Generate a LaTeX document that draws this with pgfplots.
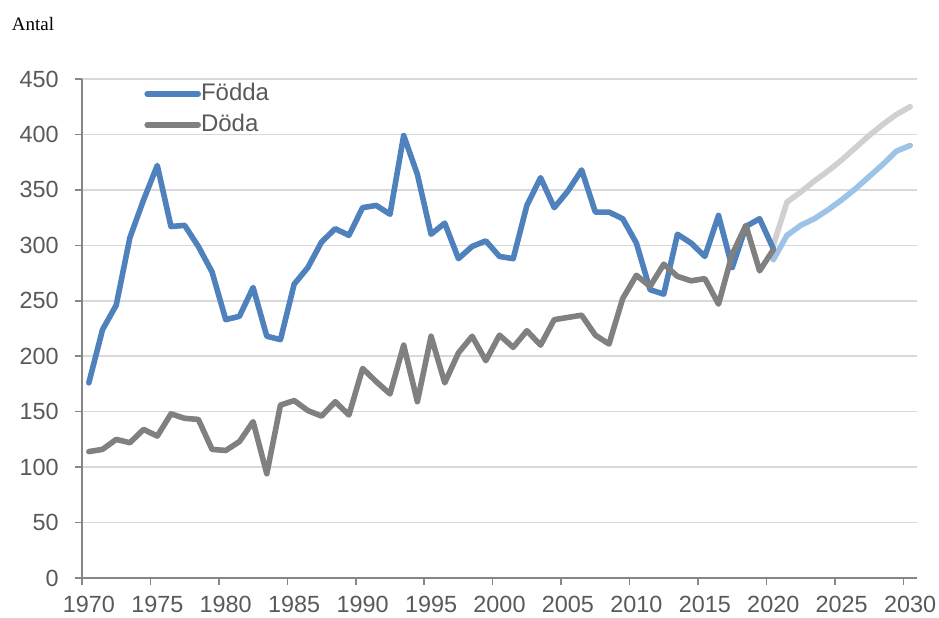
\documentclass[border=0pt]{standalone}
\usepackage{fontspec}
\setmainfont{Liberation Sans}
\newfontfamily\serifont{Liberation Serif}
\usepackage{pgfplots}
\pgfplotsset{compat=1.18}
\definecolor{fblue}{RGB}{79,129,189}
\definecolor{dgray}{RGB}{128,128,128}
\definecolor{lblue}{RGB}{157,195,230}
\definecolor{lgray}{RGB}{208,208,208}
\definecolor{gridgray}{RGB}{217,217,217}
\definecolor{axisgray}{RGB}{134,134,134}
\definecolor{textgray}{RGB}{89,89,89}

\pgfplotstableread{
year fodda doda
1970 176 114
1971 224 116
1972 246 125
1973 307 122
1974 341 134
1975 372 128
1976 317 148
1977 318 144
1978 299 143
1979 276 116
1980 233 115
1981 236 123
1982 262 141
1983 218 94
1984 215 156
1985 265 160
1986 280 151
1987 303 146
1988 315 159
1989 309 147
1990 334 189
1991 336 177
1992 328 166
1993 399 210
1994 364 159
1995 310 218
1996 320 176
1997 288 203
1998 299 218
1999 304 196
2000 290 219
2001 288 208
2002 336 223
2003 361 210
2004 334 233
2005 349 235
2006 368 237
2007 330 219
2008 330 211
2009 324 252
2010 302 273
2011 260 263
2012 256 283
2013 310 272
2014 302 268
2015 290 270
2016 327 247
2017 280 292
2018 317 318
2019 324 277
2020 297 296
}\hist

\pgfplotstableread{
year fodda doda
2020 287 300
2021 309 339
2022 318 348
2023 324 358
2024 332 367
2025 341 377
2026 351 388
2027 362 399
2028 373 409
2029 385 418
2030 390 425
}\prog

\begin{document}
\begin{tikzpicture}
\begin{axis}[
  scale only axis,
  width=417.5pt, height=249.5pt,
  xmin=1969.5, xmax=2030.5,
  ymin=0, ymax=450,
  axis lines*=left,
  axis line style={draw=axisgray, line width=1pt},
  tick align=outside,
  major tick length=3.5pt,
  tick style={draw=axisgray, line width=0.8pt},
  ytick={0,50,...,450},
  xtick={1969.5,1974.5,1979.5,1984.5,1989.5,1994.5,1999.5,2004.5,2009.5,2014.5,2019.5,2024.5,2029.5},
  xticklabels={1970,1975,1980,1985,1990,1995,2000,2005,2010,2015,2020,2025,2030},
  xticklabel style={xshift=3.42pt, yshift=-2pt},
  yticklabel style={xshift=-4.6pt},
  ymajorgrids,
  grid style={draw=gridgray, line width=0.75pt},
  ticklabel style={font=\fontsize{11.7}{14}\selectfont, text=textgray},
  /pgf/number format/assume math mode=true,
  every axis plot/.append style={line width=2.8pt, line join=round, line cap=round},
  legend style={at={(0,1)}, anchor=north west, xshift=31pt, yshift=-1.5pt,
    draw=none, fill=none, inner sep=0pt, row sep=3.5pt,
    font=\fontsize{12}{14}\selectfont, text=textgray,
    nodes={inner sep=0pt, text height=9pt, text depth=3pt},
    /tikz/every even column/.append style={column sep=2pt}},
  legend cell align=left,
  legend image code/.code={\draw[#1, line cap=round] (0pt,0.3pt) -- (25.5pt,0.3pt);},
]
\addplot[color=lblue, forget plot] table[x=year, y=fodda] {\prog};
\addplot[color=lgray, forget plot] table[x=year, y=doda] {\prog};
\addplot[color=fblue] table[x=year, y=fodda] {\hist};
\addlegendentry{Födda}
\addplot[color=dgray] table[x=year, y=doda] {\hist};
\addlegendentry{Döda}
\end{axis}
\node[anchor=base west, inner sep=0pt, font=\serifont\fontsize{9.5}{11}\selectfont, text=black]
  at ([shift={(-35.2pt,273.7pt)}]current axis.south west) {Antal};
\pgfresetboundingbox
\path ([shift={(-41pt,-19.5pt)}]current axis.south west) rectangle ([shift={(11pt,39.5pt)}]current axis.north east);
\end{tikzpicture}
\end{document}
